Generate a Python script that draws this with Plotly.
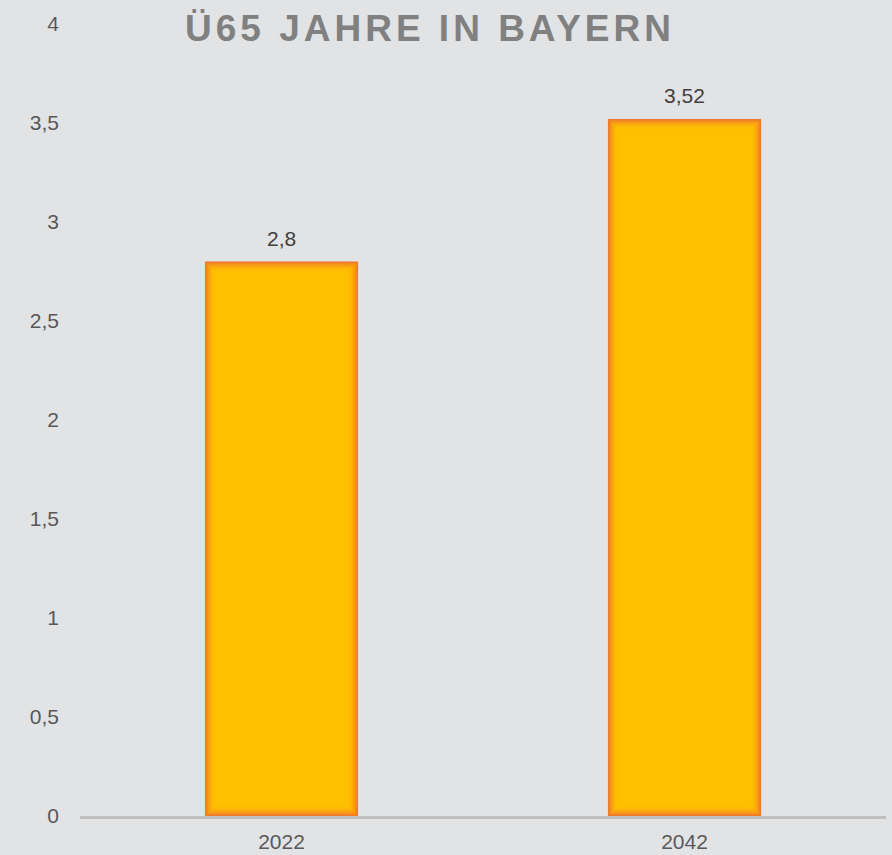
import plotly.graph_objects as go

categories = ["2022", "2042"]
values = [2.8, 3.52]
y_ticks = [0, 0.5, 1, 1.5, 2, 2.5, 3, 3.5, 4]
title_text = "Ü65 JAHRE IN BAYERN"

W, H = 892, 855
BG = "#E2E3E5"
FONT = "Liberation Sans, Arial"
BAR_W = 0.38

# plot area geometry (px per data unit) used for the soft orange glow layers
L, R, T, B = 80, 6, 24, 39
px_x = (W - L - R) / len(categories)
px_y = (H - T - B) / 4.0


def mix(c1, c2, t):
    a = [int(c1[i:i + 2], 16) for i in (1, 3, 5)]
    b = [int(c2[i:i + 2], 16) for i in (1, 3, 5)]
    return "#" + "".join(f"{round(a[k] + (b[k] - a[k]) * t):02x}" for k in range(3))


fig = go.Figure()
n_layers = 9
step = 1.3
for i in range(n_layers):
    t = 1 - (1 - i / (n_layers - 1)) ** 2
    col = mix("#EE7A2A", "#FFC000", t)
    dx = i * step / px_x
    dy = i * step / px_y
    fig.add_trace(go.Bar(
        x=categories,
        y=[v - 2 * dy for v in values],
        base=[dy] * len(values),
        width=BAR_W - 2 * dx,
        marker=dict(color=col, line=dict(width=0)),
        hoverinfo="skip",
    ))

for idx, v in enumerate(values):
    fig.add_annotation(
        x=idx, y=v, text=f"{v}".replace(".", ","), showarrow=False,
        yanchor="bottom", yshift=10,
        font=dict(family=FONT, size=21, color="#404040"),
    )

fig.update_layout(
    width=W, height=H,
    paper_bgcolor=BG, plot_bgcolor=BG,
    separators=",.",
    barmode="overlay",
    margin=dict(l=L, r=R, t=T, b=B),
    showlegend=False,
    title=dict(
        text='<span style="letter-spacing:4px">' + title_text + '</span>',
        font=dict(family=FONT, size=37, color="#808080", weight="bold"),
        x=430 / W, xref="container", xanchor="center",
        y=1 - 28 / H, yref="container", yanchor="middle",
    ),
    xaxis=dict(
        type="category", range=[-0.5, len(categories) - 0.5], automargin=False,
        showgrid=False, showline=True, linecolor="#BFBFBF", linewidth=3,
        ticks="", tickfont=dict(family=FONT, size=21, color="#595959"),
        ticklabelstandoff=5,
    ),
    yaxis=dict(
        range=[0, 4], tickvals=y_ticks, showgrid=False, zeroline=False, showline=False,
        automargin=False,
        ticks="", tickfont=dict(family=FONT, size=21, color="#595959"),
        ticklabelstandoff=20,
    ),
)

fig.write_html("out.html")
